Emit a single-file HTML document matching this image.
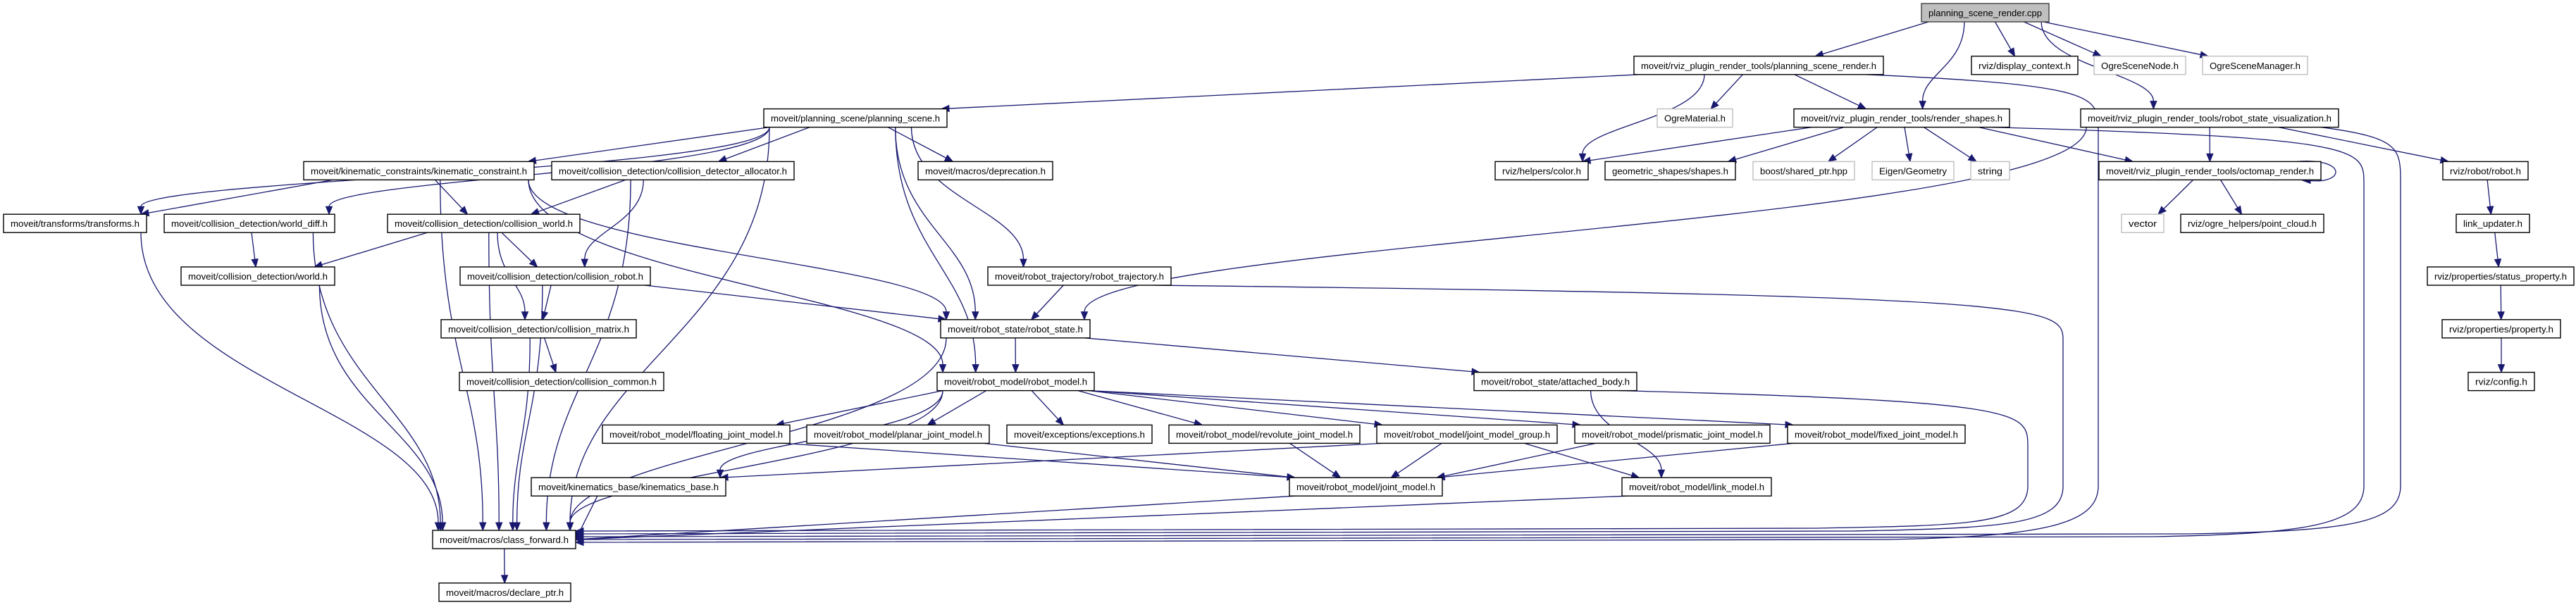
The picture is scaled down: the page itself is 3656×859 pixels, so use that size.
<!DOCTYPE html>
<html><head><meta charset="utf-8"><style>
html,body{margin:0;padding:0;background:#fff;}
svg{display:block;}
text{font-family:"Liberation Sans",sans-serif;font-size:13px;fill:#000;}
</style></head><body>
<svg id="g" width="3656" height="859" viewBox="0 0 3656 859" xmlns="http://www.w3.org/2000/svg" style="position:absolute;left:0;top:0">
<g id="edges" fill="none" stroke="#191970" stroke-width="1.3"></g>
<g id="heads" fill="#191970" stroke="#191970"></g>
</svg>
<script>
(function(){
var rowY=function(r){return 5+74.8*"ABCDEFGHIJKL".indexOf(r);};
var N={
top:[2727,2908,'A'],psr:[2319,2673,'B'],dc:[2798,2949,'B'],osn:[2972,3102,'B'],osm:[3126,3275,'B'],
ps:[1084,1344,'C'],om:[2352,2459,'C'],rs:[2546,2852,'C'],rsv:[2953,3319,'C'],
kc:[431,758,'D'],cda:[783,1127,'D'],dep:[1303,1494,'D'],col:[2122,2254,'D'],shp:[2278,2463,'D'],
bsp:[2488,2632,'D'],eig:[2657,2773,'D'],str:[2797,2852,'D'],oct:[2979,3294,'D'],rob:[3467,3588,'D'],
tf:[5,208,'E'],wd:[233,475,'E'],cw:[550,823,'E'],vec:[3011,3071,'E'],pc:[3095,3298,'E'],lu:[3486,3590,'E'],
w:[257,475,'F'],cr:[653,923,'F'],rt:[1402,1662,'F'],sp:[3445,3653,'F'],
cm:[626,903,'G'],rst:[1335,1547,'G'],pr:[3466,3634,'G'],
cc:[652,942,'H'],rm:[1330,1553,'H'],ab:[2092,2323,'H'],cfg:[3503,3597,'H'],
fjm:[855,1121,'I'],pjm:[1145,1404,'I'],exc:[1429,1635,'I'],rjm:[1659,1930,'I'],jmg:[1954,2210,'I'],
prj:[2235,2512,'I'],fix:[2537,2789,'I'],
kb:[754,1030,'J'],jm:[1830,2047,'J'],lm:[2302,2514,'J'],
cf:[614,817,'K'],dp:[623,810,'L']
};
var E=[
['top','psr'],['top','rs'],['top','rsv'],['top','dc'],['top','osn'],['top','osm'],
['psr','ps'],['psr','om'],['psr','col'],['psr','rs'],['psr','cf'],
['ps','tf'],['ps','wd'],['ps','kc'],['ps','cda'],['ps','dep'],['ps','rt'],['ps','rst'],['ps','rm'],['ps','cf'],
['kc','tf'],['kc','cw'],['kc','cf'],['kc','rst'],['kc','rm'],
['cda','cw'],['cda','cr'],['cda','cf'],
['cw','w'],['cw','cr'],['cw','cm'],['cw','cf'],
['wd','w'],['wd','cf'],['tf','cf'],['w','cf'],
['cr','cm'],['cr','rst'],['cr','cf'],
['cm','cc'],['cm','cf'],
['rt','rst'],['rt','cf'],
['rst','rm'],['rst','ab'],['rst','cf'],
['rm','fjm'],['rm','pjm'],['rm','exc'],['rm','rjm'],['rm','jmg'],['rm','prj'],['rm','fix'],['rm','kb'],['rm','cf'],
['fjm','jm'],['pjm','jm'],['rjm','jm'],['jmg','jm'],['jmg','lm'],['jmg','kb'],['prj','jm'],['fix','jm'],
['kb','cf'],['jm','cf'],['lm','cf'],['ab','lm'],['ab','cf'],
['rs','col'],['rs','shp'],['rs','bsp'],['rs','eig'],['rs','str'],['rs','oct'],['rs','cf'],
['rsv','rst'],['rsv','oct'],['rsv','rob'],['rsv','cf'],
['oct','vec'],['oct','pc'],
['rob','lu'],['lu','sp'],['sp','pr'],['pr','cfg'],
['cf','dp']
];
var SPEC={psr:[2978,770],rs:[3355,766],rsv:[3407,762],rt:[2928,758],ab:[2878,754]};
var NS="http://www.w3.org/2000/svg";
function el(t,a,p){var e=document.createElementNS(NS,t);for(var k in a)e.setAttribute(k,a[k]);p.appendChild(e);return e;}
var ge=document.getElementById('edges'),gh=document.getElementById('heads');
function box(id){var n=N[id];var y=rowY(n[2]);return {x1:n[0],x2:n[1],y1:y,y2:y+26,cx:(n[0]+n[1])/2,cy:y+13};}
function draw(d,fx,fy,tx,ty){
 var ax=tx-fx,ay=ty-fy,L=Math.sqrt(ax*ax+ay*ay)||1;ax/=L;ay/=L;
 var bx=tx-ax*11,by=ty-ay*11;
 el('path',{d:d+' '+bx+','+by},ge);
 var px=-ay,py=ax;
 el('polygon',{points:tx+','+ty+' '+(bx+px*4.5)+','+(by+py*4.5)+' '+(bx-px*4.5)+','+(by-py*4.5)},gh);
}
E.forEach(function(e){
 var s=box(e[0]),t=box(e[1]);
 if(e[1]=='cf' && SPEC[e[0]]){
  var dx=SPEC[e[0]][0],ty=SPEC[e[0]][1],sx=s.x2-25,sy=s.y2;
  if(dx<sx) dx=sx+40;
  var d='M'+sx+','+sy+' C'+dx+','+(sy+15)+' '+dx+','+(sy+30)+' '+dx+','+(sy+80)+' L'+dx+',690 C'+dx+',745 '+(dx-80)+','+(ty-8)+' '+(dx-300)+','+(ty-4)+' L';
  draw(d,dx-300,ty-4,817,ty);
  return;
 }
 var sx,sy,tx,ty,c1x,c1y,c2x,c2y;
 sx=s.cx+(t.cx-s.cx)*0.25;sx=Math.max(s.x1+8,Math.min(s.x2-8,sx));sy=s.y2;
 if(e[1]=='cf' && (t.y1-s.y1)<100 && Math.abs(t.cx-s.cx)>150){
   tx=(s.cx<t.cx)?t.x1:t.x2;ty=t.cy;
 } else {
   tx=t.cx+(s.cx-t.cx)*0.25;tx=Math.max(t.x1+8,Math.min(t.x2-8,tx));ty=t.y1;
 }
 var dy=ty-sy;
 if(dy>110){c1x=sx;c1y=sy+dy*0.5;c2x=tx;c2y=ty-dy*0.4;}
 else {c1x=sx+(tx-sx)/3;c1y=sy+dy/3;c2x=sx+2*(tx-sx)/3;c2y=sy+2*dy/3;}
 draw('M'+sx+','+sy+' C'+c1x+','+c1y+' '+c2x+','+c2y,c2x,c2y,tx,ty);
});
var o=box('oct');
el('path',{d:'M3260,'+o.y1+' C3330,'+(o.y1-6)+' 3330,'+(o.y2+6)+' 3278,'+(o.y2+1)},ge);
el('polygon',{points:'3266,'+(o.y2)+' 3279,'+(o.y2-4)+' 3279,'+(o.y2+5)},gh);
})();
</script>
<svg width="3656" height="859" viewBox="0 0 3656 859" style="position:absolute;left:0;top:0" xmlns="http://www.w3.org/2000/svg">
<g stroke-width="1.4">
<rect x="2727" y="5" width="181" height="26" fill="#bfbfbf" stroke="#404040"/><text x="2817.5" y="23" text-anchor="middle" textLength="161" lengthAdjust="spacingAndGlyphs">planning_scene_render.cpp</text>
<rect x="2319" y="79.8" width="354" height="26" fill="#fff" stroke="#000"/><text x="2496" y="97.8" text-anchor="middle" textLength="334" lengthAdjust="spacingAndGlyphs">moveit/rviz_plugin_render_tools/planning_scene_render.h</text>
<rect x="2798" y="79.8" width="151" height="26" fill="#fff" stroke="#000"/><text x="2873.5" y="97.8" text-anchor="middle" textLength="131" lengthAdjust="spacingAndGlyphs">rviz/display_context.h</text>
<rect x="2972" y="79.8" width="130" height="26" fill="#fff" stroke="#bfbfbf"/><text x="3037" y="97.8" text-anchor="middle" textLength="110" lengthAdjust="spacingAndGlyphs">OgreSceneNode.h</text>
<rect x="3126" y="79.8" width="149" height="26" fill="#fff" stroke="#bfbfbf"/><text x="3200.5" y="97.8" text-anchor="middle" textLength="129" lengthAdjust="spacingAndGlyphs">OgreSceneManager.h</text>
<rect x="1084" y="154.6" width="260" height="26" fill="#fff" stroke="#000"/><text x="1214" y="172.6" text-anchor="middle" textLength="240" lengthAdjust="spacingAndGlyphs">moveit/planning_scene/planning_scene.h</text>
<rect x="2352" y="154.6" width="107" height="26" fill="#fff" stroke="#bfbfbf"/><text x="2405.5" y="172.6" text-anchor="middle" textLength="87" lengthAdjust="spacingAndGlyphs">OgreMaterial.h</text>
<rect x="2546" y="154.6" width="306" height="26" fill="#fff" stroke="#000"/><text x="2699" y="172.6" text-anchor="middle" textLength="286" lengthAdjust="spacingAndGlyphs">moveit/rviz_plugin_render_tools/render_shapes.h</text>
<rect x="2953" y="154.6" width="366" height="26" fill="#fff" stroke="#000"/><text x="3136" y="172.6" text-anchor="middle" textLength="346" lengthAdjust="spacingAndGlyphs">moveit/rviz_plugin_render_tools/robot_state_visualization.h</text>
<rect x="431" y="229.4" width="327" height="26" fill="#fff" stroke="#000"/><text x="594.5" y="247.4" text-anchor="middle" textLength="307" lengthAdjust="spacingAndGlyphs">moveit/kinematic_constraints/kinematic_constraint.h</text>
<rect x="783" y="229.4" width="344" height="26" fill="#fff" stroke="#000"/><text x="955" y="247.4" text-anchor="middle" textLength="324" lengthAdjust="spacingAndGlyphs">moveit/collision_detection/collision_detector_allocator.h</text>
<rect x="1303" y="229.4" width="191" height="26" fill="#fff" stroke="#000"/><text x="1398.5" y="247.4" text-anchor="middle" textLength="171" lengthAdjust="spacingAndGlyphs">moveit/macros/deprecation.h</text>
<rect x="2122" y="229.4" width="132" height="26" fill="#fff" stroke="#000"/><text x="2188" y="247.4" text-anchor="middle" textLength="112" lengthAdjust="spacingAndGlyphs">rviz/helpers/color.h</text>
<rect x="2278" y="229.4" width="185" height="26" fill="#fff" stroke="#000"/><text x="2370.5" y="247.4" text-anchor="middle" textLength="165" lengthAdjust="spacingAndGlyphs">geometric_shapes/shapes.h</text>
<rect x="2488" y="229.4" width="144" height="26" fill="#fff" stroke="#bfbfbf"/><text x="2560" y="247.4" text-anchor="middle" textLength="124" lengthAdjust="spacingAndGlyphs">boost/shared_ptr.hpp</text>
<rect x="2657" y="229.4" width="116" height="26" fill="#fff" stroke="#bfbfbf"/><text x="2715" y="247.4" text-anchor="middle" textLength="96" lengthAdjust="spacingAndGlyphs">Eigen/Geometry</text>
<rect x="2797" y="229.4" width="55" height="26" fill="#fff" stroke="#bfbfbf"/><text x="2824.5" y="247.4" text-anchor="middle" textLength="35" lengthAdjust="spacingAndGlyphs">string</text>
<rect x="2979" y="229.4" width="315" height="26" fill="#fff" stroke="#000"/><text x="3136.5" y="247.4" text-anchor="middle" textLength="295" lengthAdjust="spacingAndGlyphs">moveit/rviz_plugin_render_tools/octomap_render.h</text>
<rect x="3467" y="229.4" width="121" height="26" fill="#fff" stroke="#000"/><text x="3527.5" y="247.4" text-anchor="middle" textLength="101" lengthAdjust="spacingAndGlyphs">rviz/robot/robot.h</text>
<rect x="5" y="304.2" width="203" height="26" fill="#fff" stroke="#000"/><text x="106.5" y="322.2" text-anchor="middle" textLength="183" lengthAdjust="spacingAndGlyphs">moveit/transforms/transforms.h</text>
<rect x="233" y="304.2" width="242" height="26" fill="#fff" stroke="#000"/><text x="354" y="322.2" text-anchor="middle" textLength="222" lengthAdjust="spacingAndGlyphs">moveit/collision_detection/world_diff.h</text>
<rect x="550" y="304.2" width="273" height="26" fill="#fff" stroke="#000"/><text x="686.5" y="322.2" text-anchor="middle" textLength="253" lengthAdjust="spacingAndGlyphs">moveit/collision_detection/collision_world.h</text>
<rect x="3011" y="304.2" width="60" height="26" fill="#fff" stroke="#bfbfbf"/><text x="3041" y="322.2" text-anchor="middle" textLength="40" lengthAdjust="spacingAndGlyphs">vector</text>
<rect x="3095" y="304.2" width="203" height="26" fill="#fff" stroke="#000"/><text x="3196.5" y="322.2" text-anchor="middle" textLength="183" lengthAdjust="spacingAndGlyphs">rviz/ogre_helpers/point_cloud.h</text>
<rect x="3486" y="304.2" width="104" height="26" fill="#fff" stroke="#000"/><text x="3538" y="322.2" text-anchor="middle" textLength="84" lengthAdjust="spacingAndGlyphs">link_updater.h</text>
<rect x="257" y="379" width="218" height="26" fill="#fff" stroke="#000"/><text x="366" y="397" text-anchor="middle" textLength="198" lengthAdjust="spacingAndGlyphs">moveit/collision_detection/world.h</text>
<rect x="653" y="379" width="270" height="26" fill="#fff" stroke="#000"/><text x="788" y="397" text-anchor="middle" textLength="250" lengthAdjust="spacingAndGlyphs">moveit/collision_detection/collision_robot.h</text>
<rect x="1402" y="379" width="260" height="26" fill="#fff" stroke="#000"/><text x="1532" y="397" text-anchor="middle" textLength="240" lengthAdjust="spacingAndGlyphs">moveit/robot_trajectory/robot_trajectory.h</text>
<rect x="3445" y="379" width="208" height="26" fill="#fff" stroke="#000"/><text x="3549" y="397" text-anchor="middle" textLength="188" lengthAdjust="spacingAndGlyphs">rviz/properties/status_property.h</text>
<rect x="626" y="453.8" width="277" height="26" fill="#fff" stroke="#000"/><text x="764.5" y="471.8" text-anchor="middle" textLength="257" lengthAdjust="spacingAndGlyphs">moveit/collision_detection/collision_matrix.h</text>
<rect x="1335" y="453.8" width="212" height="26" fill="#fff" stroke="#000"/><text x="1441" y="471.8" text-anchor="middle" textLength="192" lengthAdjust="spacingAndGlyphs">moveit/robot_state/robot_state.h</text>
<rect x="3466" y="453.8" width="168" height="26" fill="#fff" stroke="#000"/><text x="3550" y="471.8" text-anchor="middle" textLength="148" lengthAdjust="spacingAndGlyphs">rviz/properties/property.h</text>
<rect x="652" y="528.6" width="290" height="26" fill="#fff" stroke="#000"/><text x="797" y="546.6" text-anchor="middle" textLength="270" lengthAdjust="spacingAndGlyphs">moveit/collision_detection/collision_common.h</text>
<rect x="1330" y="528.6" width="223" height="26" fill="#fff" stroke="#000"/><text x="1441.5" y="546.6" text-anchor="middle" textLength="203" lengthAdjust="spacingAndGlyphs">moveit/robot_model/robot_model.h</text>
<rect x="2092" y="528.6" width="231" height="26" fill="#fff" stroke="#000"/><text x="2207.5" y="546.6" text-anchor="middle" textLength="211" lengthAdjust="spacingAndGlyphs">moveit/robot_state/attached_body.h</text>
<rect x="3503" y="528.6" width="94" height="26" fill="#fff" stroke="#000"/><text x="3550" y="546.6" text-anchor="middle" textLength="74" lengthAdjust="spacingAndGlyphs">rviz/config.h</text>
<rect x="855" y="603.4" width="266" height="26" fill="#fff" stroke="#000"/><text x="988" y="621.4" text-anchor="middle" textLength="246" lengthAdjust="spacingAndGlyphs">moveit/robot_model/floating_joint_model.h</text>
<rect x="1145" y="603.4" width="259" height="26" fill="#fff" stroke="#000"/><text x="1274.5" y="621.4" text-anchor="middle" textLength="239" lengthAdjust="spacingAndGlyphs">moveit/robot_model/planar_joint_model.h</text>
<rect x="1429" y="603.4" width="206" height="26" fill="#fff" stroke="#000"/><text x="1532" y="621.4" text-anchor="middle" textLength="186" lengthAdjust="spacingAndGlyphs">moveit/exceptions/exceptions.h</text>
<rect x="1659" y="603.4" width="271" height="26" fill="#fff" stroke="#000"/><text x="1794.5" y="621.4" text-anchor="middle" textLength="251" lengthAdjust="spacingAndGlyphs">moveit/robot_model/revolute_joint_model.h</text>
<rect x="1954" y="603.4" width="256" height="26" fill="#fff" stroke="#000"/><text x="2082" y="621.4" text-anchor="middle" textLength="236" lengthAdjust="spacingAndGlyphs">moveit/robot_model/joint_model_group.h</text>
<rect x="2235" y="603.4" width="277" height="26" fill="#fff" stroke="#000"/><text x="2373.5" y="621.4" text-anchor="middle" textLength="257" lengthAdjust="spacingAndGlyphs">moveit/robot_model/prismatic_joint_model.h</text>
<rect x="2537" y="603.4" width="252" height="26" fill="#fff" stroke="#000"/><text x="2663" y="621.4" text-anchor="middle" textLength="232" lengthAdjust="spacingAndGlyphs">moveit/robot_model/fixed_joint_model.h</text>
<rect x="754" y="678.2" width="276" height="26" fill="#fff" stroke="#000"/><text x="892" y="696.2" text-anchor="middle" textLength="256" lengthAdjust="spacingAndGlyphs">moveit/kinematics_base/kinematics_base.h</text>
<rect x="1830" y="678.2" width="217" height="26" fill="#fff" stroke="#000"/><text x="1938.5" y="696.2" text-anchor="middle" textLength="197" lengthAdjust="spacingAndGlyphs">moveit/robot_model/joint_model.h</text>
<rect x="2302" y="678.2" width="212" height="26" fill="#fff" stroke="#000"/><text x="2408" y="696.2" text-anchor="middle" textLength="192" lengthAdjust="spacingAndGlyphs">moveit/robot_model/link_model.h</text>
<rect x="614" y="753" width="203" height="26" fill="#fff" stroke="#000"/><text x="715.5" y="771" text-anchor="middle" textLength="183" lengthAdjust="spacingAndGlyphs">moveit/macros/class_forward.h</text>
<rect x="623" y="827.8" width="187" height="26" fill="#fff" stroke="#000"/><text x="716.5" y="845.8" text-anchor="middle" textLength="167" lengthAdjust="spacingAndGlyphs">moveit/macros/declare_ptr.h</text>
</g>
</svg>
</body></html>
